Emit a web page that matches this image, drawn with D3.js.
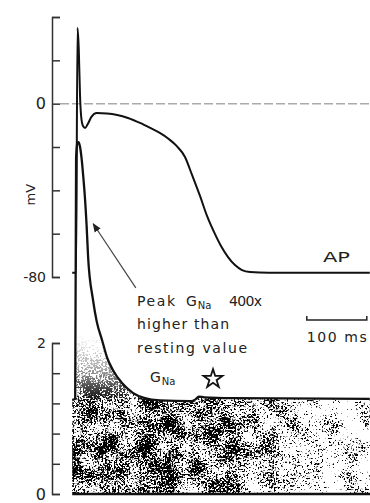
<!DOCTYPE html>
<html>
<head>
<meta charset="utf-8">
<script src="https://cdn.jsdelivr.net/npm/d3@7"></script>
<style>
  body { margin: 0; background: #fff; }
  svg { display: block; font-family: "DejaVu Sans", sans-serif; }
</style>
</head>
<body>
<svg id="chart" width="370" height="503"></svg>
<script>
const width = 370
const height = 503

// action potential (time in ms from upstroke, membrane potential in mV)
const apTime = [-8, -1.5, 0.8, 3, 5, 7, 10, 13.5, 18, 24, 33, 50, 67, 85, 105, 122, 138, 153, 166, 180, 191.7, 205, 216.7, 228.3, 240, 251.7, 263.3, 275, 288.3, 320, 400, 488]
const apVoltage = [-78, -78, 35, 24.8, 4, -6.1, -10.3, -11.2, -9.4, -6.1, -4.3, -4.5, -5.2, -6.6, -8.9, -11.2, -13.5, -16.3, -19.5, -24.6, -32.9, -42.6, -51.8, -59.2, -65.7, -70.8, -74.5, -76.8, -77.7, -78, -78, -78]

// sodium conductance (peak is clipped off the scale)
const gnaTime = [-8, -3, -1.5, 0.5, 2.5, 5, 8, 10.5, 13, 16, 18.5, 26.7, 33, 41.7, 50, 60, 75, 93, 113, 138, 190, 197, 203, 212, 260, 488]
const gnaValue = [1.245, 1.26, 4.45, 4.64, 4.66, 4.6, 4.42, 4.2, 3.95, 3.56, 3.14, 2.57, 2.28, 2.04, 1.81, 1.64, 1.47, 1.34, 1.27, 1.24, 1.23, 1.25, 1.29, 1.28, 1.27, 1.26]

const mvTicks = [40, 20, 0, -20, -40, -60, -80]
const mvLabels = [0, -80]
const gTicks = [0, 0.4, 0.8, 1.2, 1.6, 2]
const gLabels = [0, 2]
const scaleBar = [383, 483]

const svg = d3.select("#chart")

const x = d3.scaleLinear().domain([0, 488]).range([77, 369.8])
const yV = d3.scaleLinear().domain([-80, 40]).range([277, 17])
const yG = d3.scaleLinear().domain([0, 2]).range([494, 343])

const ap = apTime.map((t, i) => ({ t: t, v: apVoltage[i] }))
const gna = gnaTime.map((t, i) => ({ t: t, g: gnaValue[i] }))

const defs = svg.append("defs")

// density of the speckle, heavy on the left and thinning out to the right
const grad = defs.append("linearGradient")
    .attr("id", "density")
    .attr("gradientUnits", "userSpaceOnUse")
    .attr("x1", 72).attr("x2", 370).attr("y1", 0).attr("y2", 0)
grad.selectAll("stop")
    .data([[0, 1], [0.5, 0.99], [0.66, 0.86], [0.82, 0.76], [1, 0.68]])
    .join("stop")
    .attr("offset", d => d[0])
    .attr("stop-color", "#000")
    .attr("stop-opacity", d => d[1])

// fades the speckle out going up into the spike
const vfade = defs.append("linearGradient")
    .attr("id", "vfade")
    .attr("gradientUnits", "userSpaceOnUse")
    .attr("x1", 0).attr("x2", 0).attr("y1", 335).attr("y2", 402)
vfade.selectAll("stop")
    .data([[0, 0], [0.5, 0.35], [0.85, 0.8], [1, 1]])
    .join("stop")
    .attr("offset", d => d[0])
    .attr("stop-color", "#fff")
    .attr("stop-opacity", d => d[1])
defs.append("mask").attr("id", "fade")
    .attr("maskUnits", "userSpaceOnUse")
    .attr("x", 60).attr("y", 120).attr("width", 320).attr("height", 380)
    .append("rect")
    .attr("x", 60).attr("y", 120).attr("width", 320).attr("height", 380)
    .attr("fill", "url(#vfade)")

const filt = defs.append("filter")
    .attr("id", "grain")
    .attr("filterUnits", "userSpaceOnUse")
    .attr("x", 60).attr("y", 120).attr("width", 320).attr("height", 380)
filt.append("feTurbulence")
    .attr("type", "fractalNoise").attr("baseFrequency", 0.55)
    .attr("numOctaves", 2).attr("seed", 11).attr("result", "fine")
filt.append("feColorMatrix").attr("in", "fine").attr("type", "matrix")
    .attr("values", "0 0 0 0 0  0 0 0 0 0  0 0 0 0 0  1 0 0 0 0").attr("result", "fineA")
filt.append("feTurbulence")
    .attr("type", "fractalNoise").attr("baseFrequency", 0.05)
    .attr("numOctaves", 2).attr("seed", 3).attr("result", "coarse")
filt.append("feColorMatrix").attr("in", "coarse").attr("type", "matrix")
    .attr("values", "0 0 0 0 0  0 0 0 0 0  0 0 0 0 0  1 0 0 0 0").attr("result", "coarseA")
filt.append("feComposite").attr("in", "fineA").attr("in2", "coarseA")
    .attr("operator", "arithmetic")
    .attr("k1", 0).attr("k2", 1).attr("k3", 0.6).attr("k4", -0.32).attr("result", "mix")
filt.append("feComposite").attr("in", "mix").attr("in2", "SourceGraphic")
    .attr("operator", "arithmetic")
    .attr("k1", 0).attr("k2", 1).attr("k3", 0.6).attr("k4", -0.52).attr("result", "dens")
filt.append("feComponentTransfer").attr("in", "dens")
    .append("feFuncA").attr("type", "linear").attr("slope", 10).attr("intercept", -5.15)

const areaG = d3.area()
    .x(d => x(d.t))
    .y0(yG(0))
    .y1(d => yG(d.g))
    .curve(d3.curveMonotoneX)

defs.append("clipPath").attr("id", "under")
    .append("path").attr("d", areaG(gna))

svg.append("g")
    .attr("clip-path", "url(#under)")
    .append("g")
    .attr("mask", "url(#fade)")
    .append("rect")
    .attr("x", 60).attr("y", 120).attr("width", 320).attr("height", 380)
    .attr("fill", "url(#density)")
    .attr("filter", "url(#grain)")

// axes
const axisV = d3.axisRight(yV).tickValues(mvTicks).tickSize(8).tickSizeOuter(8).tickFormat("")
const axisG = d3.axisRight(yG).tickValues(gTicks).tickSize(8).tickSizeOuter(8).tickFormat("")

svg.append("g").attr("transform", "translate(52,0)").call(axisV)
    .call(g => g.selectAll("path, line").attr("stroke", "#333").attr("stroke-width", 1.5))
svg.append("g").attr("transform", "translate(52,0)").call(axisG)
    .call(g => g.selectAll("path, line").attr("stroke", "#333").attr("stroke-width", 1.5))

svg.append("g").selectAll("text")
    .data(mvLabels)
    .join("text")
    .attr("x", 46).attr("y", d => yV(d))
    .attr("dy", "0.36em")
    .attr("text-anchor", "end")
    .attr("font-size", d => d === 0 ? 16 : 14)
    .attr("fill", "#222")
    .text(d => d === 0 ? "0" : "-" + Math.abs(d))

svg.append("g").selectAll("text")
    .data(gLabels)
    .join("text")
    .attr("x", 46).attr("y", d => yG(d))
    .attr("dy", "0.36em")
    .attr("text-anchor", "end")
    .attr("font-size", d => d === 0 ? 16 : 14)
    .attr("fill", "#222")
    .text(d => d)

svg.append("text")
    .attr("transform", `translate(35,${yV(-42)}) rotate(-90)`)
    .attr("text-anchor", "middle")
    .attr("font-size", 13)
    .attr("fill", "#222")
    .text("mV")

// zero line
svg.append("line")
    .attr("x1", 60).attr("x2", 370)
    .attr("y1", yV(0)).attr("y2", yV(0))
    .attr("stroke", "#aaa")
    .attr("stroke-width", 1.5)
    .attr("stroke-dasharray", "9 3")

// baseline under G_Na
svg.append("line")
    .attr("x1", x(-8)).attr("x2", 370)
    .attr("y1", yG(0)).attr("y2", yG(0))
    .attr("stroke", "#111")
    .attr("stroke-width", 2.5)

const lineAP = d3.line().x(d => x(d.t)).y(d => yV(d.v)).curve(d3.curveMonotoneX)
const lineG = d3.line().x(d => x(d.t)).y(d => yG(d.g)).curve(d3.curveMonotoneX)

svg.append("path")
    .attr("d", lineG(gna))
    .attr("fill", "none")
    .attr("stroke", "#111")
    .attr("stroke-width", 2.3)

svg.append("path")
    .attr("d", lineAP(ap))
    .attr("fill", "none")
    .attr("stroke", "#111")
    .attr("stroke-width", 2)

// labels
svg.append("text")
    .attr("x", x(410)).attr("y", yV(-73))
    .attr("font-size", 14).attr("fill", "#222")
    .attr("textLength", 27).attr("lengthAdjust", "spacingAndGlyphs")
    .text("AP")

const note = svg.append("g").attr("font-size", 14).attr("fill", "#222")
note.append("text").attr("x", 137).attr("y", 306)
    .attr("textLength", 38).attr("lengthAdjust", "spacing").text("Peak")
const gn = note.append("text").attr("x", 186).attr("y", 306)
gn.append("tspan").text("G")
gn.append("tspan").attr("font-size", 10).attr("dy", 3).attr("dx", 1).text("Na")
note.append("text").attr("x", 229).attr("y", 306)
    .attr("textLength", 33).attr("lengthAdjust", "spacing").text("400x")
note.append("text").attr("x", 137).attr("y", 329)
    .attr("textLength", 92).attr("lengthAdjust", "spacing").text("higher than")
note.append("text").attr("x", 137).attr("y", 353)
    .attr("textLength", 110).attr("lengthAdjust", "spacing").text("resting value")

const gl = svg.append("text").attr("x", 150).attr("y", 382).attr("font-size", 14).attr("fill", "#222")
gl.append("tspan").text("G")
gl.append("tspan").attr("font-size", 10).attr("dy", 3).attr("dx", 1).text("Na")

svg.append("path")
    .attr("d", d3.symbol(d3.symbolStar, 110)())
    .attr("transform", `translate(213,379)`)
    .attr("fill", "none")
    .attr("stroke", "#111")
    .attr("stroke-width", 1.8)

// arrow to the clipped sodium peak
defs.append("marker")
    .attr("id", "head")
    .attr("viewBox", "0 0 10 10")
    .attr("refX", 9).attr("refY", 5)
    .attr("markerWidth", 9).attr("markerHeight", 9)
    .attr("markerUnits", "userSpaceOnUse")
    .attr("orient", "auto")
    .append("path").attr("d", "M0,1L10,5L0,9Z").attr("fill", "#222")

svg.append("line")
    .attr("x1", x(98)).attr("y1", yG(2.73))
    .attr("x2", x(27)).attr("y2", yG(3.58))
    .attr("stroke", "#444")
    .attr("stroke-width", 1.2)
    .attr("marker-end", "url(#head)")

// 100 ms scale bar
const barY = yV(-99.8)
svg.append("path")
    .attr("d", d3.line()([[x(scaleBar[0]), barY - 4], [x(scaleBar[0]), barY], [x(scaleBar[1]), barY], [x(scaleBar[1]), barY - 4]]))
    .attr("fill", "none")
    .attr("stroke", "#222")
    .attr("stroke-width", 1.5)

svg.append("text")
    .attr("x", x(scaleBar[0])).attr("y", barY + 22)
    .attr("font-size", 14).attr("fill", "#222")
    .attr("textLength", 60).attr("lengthAdjust", "spacing")
    .text("100 ms")
</script>
</body>
</html>
